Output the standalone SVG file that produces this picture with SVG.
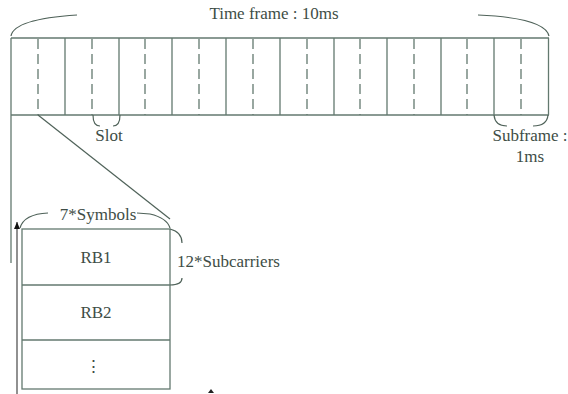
<svg xmlns="http://www.w3.org/2000/svg" width="568" height="394" viewBox="0 0 568 394">
<style>
.ln{stroke:#63796f;stroke-width:1.3;fill:none}
.ds{stroke:#63796f;stroke-width:1.3;fill:none;stroke-dasharray:10 5}
.br{stroke:#4f6259;stroke-width:1.2;fill:none}
text{font-family:"Liberation Serif","Times New Roman",serif;font-size:17px;fill:#3e4d46}
</style>
<defs>
<marker id="ah" markerWidth="8" markerHeight="8" refX="7" refY="3" orient="auto" markerUnits="userSpaceOnUse">
<path d="M0,0 L7,3 L0,6 Z" fill="#111"/>
</marker>
</defs>
<rect width="568" height="394" fill="#fff"/>
<g id="timeframe">
<line class="ln" x1="11" y1="38" x2="549" y2="38"/>
<line class="ln" x1="11" y1="115" x2="549" y2="115"/>
<line class="ln" x1="11" y1="38" x2="11" y2="263"/>
<line class="ln" x1="548.5" y1="38" x2="548.5" y2="115"/>
<path class="ln" d="M65,38V115M119,38V115M172,38V115M226,38V115M280,38V115M334,38V115M387,38V115M441,38V115M494,38V115"/>
<path class="ds" d="M38,39V115M92,39V115M145,39V115M199,39V115M253,39V115M307,39V115M360,39V115M414,39V115M467,39V115M521,39V115"/>
<path class="br" d="M11,36 Q14,19 77,15"/>
<path class="br" d="M478,15 Q545,18 549,36"/>
<text x="274" y="19" text-anchor="middle">Time frame : 10ms</text>
</g>
<g id="slot">
<path class="br" d="M93,115 Q93,126 100,126"/>
<path class="br" d="M113,126 Q120,126 120,115"/>
<text x="109" y="141" text-anchor="middle">Slot</text>
</g>
<g id="subframe">
<path class="br" d="M494,115 Q495,126 507,126"/>
<path class="br" d="M533,126 Q547,126 548,115"/>
<text x="530" y="141" text-anchor="middle">Subframe :</text>
<text x="530" y="162" text-anchor="middle">1ms</text>
</g>
<g id="connectors">
<line class="br" x1="38" y1="115" x2="170" y2="219"/>
<line x1="17" y1="394" x2="17" y2="222" stroke="#555" stroke-width="1.3" marker-end="url(#ah)"/>
<path d="M208,393 L211,389 L214,393" fill="#222" stroke="none"/>
</g>
<g id="rb-grid">
<rect class="ln" x="22" y="229" width="148" height="160"/>
<line class="ln" x1="22" y1="285" x2="170" y2="285"/>
<line class="ln" x1="22" y1="340" x2="170" y2="340"/>
</g>
<g id="rb1"><text x="96" y="263" text-anchor="middle">RB1</text></g>
<g id="rb2"><text x="96" y="318" text-anchor="middle">RB2</text></g>
<g id="rb3"><text x="93" y="372" text-anchor="middle">⋮</text></g>
<g id="symbols">
<path class="br" d="M20,228 Q24,214 48,213"/>
<text x="98" y="220" text-anchor="middle">7*Symbols</text>
<path class="br" d="M137,213 L150,214 Q167,218 170,228"/>
</g>
<g id="subcarriers">
<path class="br" d="M170,229 Q182,232 182,243"/>
<path class="br" d="M182,278 Q182,285 170,285"/>
<text x="177" y="267">12*Subcarriers</text>
</g>
</svg>
